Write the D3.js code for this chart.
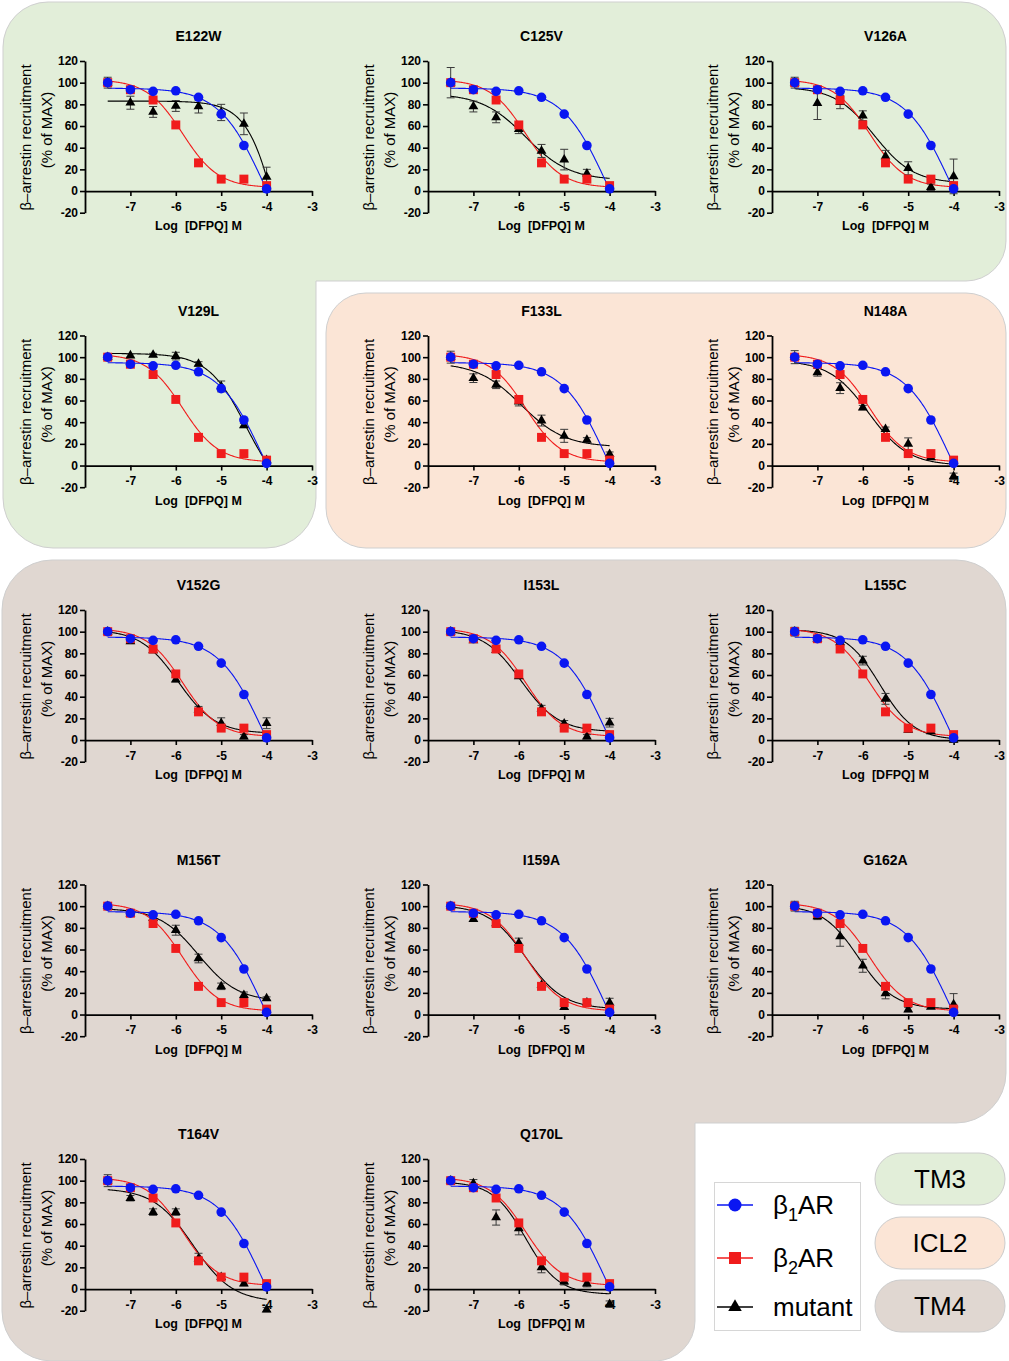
<!DOCTYPE html>
<html><head><meta charset="utf-8">
<script src="https://cdn.jsdelivr.net/npm/d3@7"></script>
<style>
body{margin:0;background:#fff;}
svg{display:block;font-family:"Liberation Sans",Arial,Helvetica,sans-serif;}
</style>
</head><body>
<svg id="chart" width="1009" height="1361"></svg>
<script>
// ---------------- DATA ----------------
const panelNames = ["E122W","C125V","V126A","V129L","F133L","N148A","V152G","I153L","L155C","M156T","I159A","G162A","T164V","Q170L"];
const logConc = [-7.5,-7,-6.5,-6,-5.5,-5,-4.5,-4];
const beta1Values = [100,93.5,92,92.5,86.5,71,42,2];
const beta2Values = [100,93.5,84,61,26,11,11,5];
const mutantValues = [
  [100,81.5,73,78.5,78,72.5,62,13],
  [100,78,68,57,37,29,16,2],
  [100,81,82,69.5,32,21,3.5,13.5],
  [100,101.5,102,101,93.8,73,37,5],
  [100,80.6,74.5,59,41.5,27.4,23.7,10.5],
  [100,86,71.4,53.5,33.5,20,7.4,-10],
  [100,91,82.6,55.7,28,15.5,3,15.5],
  [100,92,83,58.8,29,15,3,16],
  [100,93,90,73.3,38,9.3,8,0],
  [100,93,89,77.8,51.7,26,17.8,14.8],
  [100,88,84,66,27,6.8,11,11],
  [100,90.6,72,45,19.5,4.6,7,9.3],
  [100,83.8,71,71,28,11,5,-19],
  [100,97.5,66,56,20,6.8,5,-14]
];
const mutantErrors = [
  [5,6,5,5,6,7.5,10,9],
  [14,5,5,4,6,9.5,4,3],
  [5,15,6,4.5,5.5,6,3,16],
  [2,1.5,1.5,3.5,2,5,2,2],
  [5.5,4,3.5,4,5,6,2,2],
  [6,3.5,5,2,2,5.5,2,3],
  [2,2,2,2,3,5,2,5],
  [2,2,2,2,3,3,2,4],
  [4,2,2,4,5,2,2,2],
  [2,2,2,4.6,4,3,3,1.5],
  [3,2,2,4.5,2,2,2,4],
  [4.5,3,9,6,5,2,1.5,10],
  [5.5,2.5,3,3,5,2,2,2],
  [3,3.5,7,6,5,3,3,3]
];
// fitted dose-response curves: top, bottom, logIC50, hill slope
const beta1Fit = [95,-80,-4.07,0.89];
const beta2Fit = [103,3,-5.85,1.1];
const mutantFitTop     = [83,90,96,103.5,95,97,102,102,102,98,101,101,93,99];
const mutantFitBottom  = [-200,10,7,-30,17,0,6,7.5,0,12,5,5,-12,-5];
const mutantFitLogIC50 = [-3.6,-5.85,-5.75,-4.46,-5.95,-5.87,-5.95,-5.95,-5.62,-5.5,-5.85,-6.1,-5.62,-5.85];
const mutantFitHill    = [1.2,0.9,1.0,1.05,0.9,1.0,1.05,1.05,1.15,1.0,1.05,1.1,1.0,1.2];
const yTicks = [-20,0,20,40,60,80,100,120];
const xTicks = [-7,-6,-5,-4,-3];
const seriesNames = ["β1AR","β2AR","mutant"];
const regionLabels = ["TM3","ICL2","TM4"];

// ---------------- STYLE ----------------
const BLUE = "#0a16f2", RED = "#f01c1c", BLACK = "#000";
const regionFill = ["#e2eed9","#fbe5d6","#e0d7d1"];
const regionStroke = "#cfcfcf";

const svg = d3.select("#chart");
svg.append("rect").attr("width",1009).attr("height",1361).attr("fill","#fff");

// background regions
const bg = svg.append("g");
bg.append("path")
  .attr("d","M3,47 A45,45 0 0 1 48,2 L961,2 A45,45 0 0 1 1006,47 L1006,241 A40,40 0 0 1 966,281 L316,281 L316,498 A50,50 0 0 1 266,548 L53,548 A50,50 0 0 1 3,498 Z")
  .attr("fill",regionFill[0]).attr("stroke",regionStroke).attr("stroke-width",1);
bg.append("rect").attr("x",326).attr("y",293).attr("width",680).attr("height",255).attr("rx",40)
  .attr("fill",regionFill[1]).attr("stroke",regionStroke).attr("stroke-width",1);
bg.append("path")
  .attr("d","M2,610 A50,50 0 0 1 52,560 L956,560 A50,50 0 0 1 1006,610 L1006,1073 A50,50 0 0 1 956,1123 L695,1123 L695,1321 A40,40 0 0 1 655,1361 L52,1361 A50,50 0 0 1 2,1311 Z")
  .attr("fill",regionFill[2]).attr("stroke",regionStroke).attr("stroke-width",1);

// ---------------- PANELS ----------------
const logistic = (p, x) => p[1] + (p[0]-p[1]) / (1 + Math.pow(10, p[3]*(x - p[2])));
const colX = [0, 343, 687];
const rowH = 274.5;
const x = d3.scaleLinear().domain([-8,-3]).range([85,312]);
const y = d3.scaleLinear().domain([-20,120]).range([212.7,61]);
const curveX = d3.range(logConc[0], logConc[logConc.length-1] + 0.001, 0.02);
const line = d3.line().x(d => x(d[0])).y(d => y(d[1])).curve(d3.curveLinear);
const triangle = d3.symbol().type(d3.symbolTriangle).size(42);
const square = d3.symbol().type(d3.symbolSquare).size(80);

panelNames.forEach((name, i) => {
  const ox = colX[i % 3], oy = Math.floor(i / 3) * rowH;
  const g = svg.append("g").attr("transform", `translate(${ox},${oy})`);

  // title
  g.append("text").attr("x", 198.5).attr("y", 41).attr("text-anchor","middle")
    .attr("font-weight","bold").attr("font-size",14).text(name);

  // axes
  const ya = g.append("g").attr("transform","translate(85,0)")
    .call(d3.axisLeft(y).tickValues(yTicks).tickSize(5).tickSizeOuter(0).tickPadding(2).tickFormat(d => String(d)));
  const xa = g.append("g").attr("transform",`translate(0,${y(0)})`)
    .call(d3.axisBottom(x).tickValues(xTicks).tickSize(5).tickSizeOuter(0).tickPadding(6).tickFormat(d => String(d)));
  [ya, xa].forEach(a => {
    a.select(".domain").attr("stroke","#000").attr("stroke-width",1.8);
    a.selectAll(".tick line").attr("stroke","#000").attr("stroke-width",1.6);
    a.selectAll(".tick text").attr("fill","#000").attr("font-weight","bold")
      .attr("font-size",12).attr("font-family","Liberation Sans, Arial, sans-serif");
  });

  // axis labels
  g.append("text").attr("x",198.5).attr("y",230).attr("text-anchor","middle")
    .attr("font-weight","bold").attr("font-size",12.5).style("white-space","pre")
    .text("Log  [DFPQ] M");
  g.append("text").attr("transform","translate(31,137.5) rotate(-90)").attr("text-anchor","middle")
    .attr("font-size",15).text("β–arrestin recruitment");
  g.append("text").attr("transform","translate(52,130) rotate(-90)").attr("text-anchor","middle")
    .attr("font-size",15).text("(% of MAX)");

  // curves
  const mFit = [mutantFitTop[i], mutantFitBottom[i], mutantFitLogIC50[i], mutantFitHill[i]];
  const curves = [[mFit, BLACK],[beta2Fit, RED],[beta1Fit, BLUE]];
  curves.forEach(([p, c]) => {
    g.append("path").attr("d", line(curveX.map(v => [v, logistic(p, v)])))
      .attr("fill","none").attr("stroke",c).attr("stroke-width",1.1);
  });

  // error bars (mutant)
  const mv = mutantValues[i], me = mutantErrors[i];
  const eb = g.append("g").attr("stroke","#3a3a3a").attr("stroke-width",1);
  logConc.forEach((c, k) => {
    const x0 = x(c), y1 = y(mv[k] - me[k]), y2 = y(mv[k] + me[k]);
    eb.append("line").attr("x1",x0).attr("x2",x0).attr("y1",y1).attr("y2",y2);
    eb.append("line").attr("x1",x0-4).attr("x2",x0+4).attr("y1",y1).attr("y2",y1);
    eb.append("line").attr("x1",x0-4).attr("x2",x0+4).attr("y1",y2).attr("y2",y2);
  });

  // markers
  g.append("g").selectAll("path").data(logConc.map((c,k)=>[c, mv[k]])).join("path")
    .attr("d", triangle).attr("transform", d => `translate(${x(d[0])},${y(d[1])})`).attr("fill",BLACK);
  g.append("g").selectAll("path").data(logConc.map((c,k)=>[c, beta2Values[k]])).join("path")
    .attr("d", square).attr("transform", d => `translate(${x(d[0])},${y(d[1])})`).attr("fill",RED);
  g.append("g").selectAll("circle").data(logConc.map((c,k)=>[c, beta1Values[k]])).join("circle")
    .attr("cx", d => x(d[0])).attr("cy", d => y(d[1])).attr("r",4.8).attr("fill",BLUE);
});

// ---------------- LEGEND ----------------
const lg = svg.append("g");
lg.append("rect").attr("x",714.5).attr("y",1182.5).attr("width",146).attr("height",148)
  .attr("fill","#fff").attr("stroke","#d6d6d6").attr("stroke-width",1);
const legendY = [1205, 1258, 1307];
const legendColors = [BLUE, RED, BLACK];
seriesNames.forEach((s, k) => {
  const yy = legendY[k];
  lg.append("line").attr("x1",717).attr("x2",753).attr("y1",yy).attr("y2",yy)
    .attr("stroke",legendColors[k]).attr("stroke-width",1.6);
  if (k === 0) lg.append("circle").attr("cx",735).attr("cy",yy).attr("r",6.5).attr("fill",BLUE);
  if (k === 1) lg.append("path").attr("d", d3.symbol().type(d3.symbolSquare).size(144)).attr("transform",`translate(735,${yy})`).attr("fill",RED);
  if (k === 2) lg.append("path").attr("d", d3.symbol().type(d3.symbolTriangle).size(80)).attr("transform",`translate(735,${yy})`).attr("fill",BLACK);
  const t = lg.append("text").attr("x",773).attr("y",yy+9).attr("font-size",26).attr("fill","#000");
  if (s.startsWith("β")) {
    t.append("tspan").text("β");
    t.append("tspan").attr("font-size",18).attr("dy",7).text(s.charAt(1));
    t.append("tspan").attr("dy",-7).text(s.slice(2));
  } else {
    t.text(s);
  }
});

// region pills
const pillY = [1153, 1217, 1280];
regionLabels.forEach((r, k) => {
  lg.append("rect").attr("x",875).attr("y",pillY[k]).attr("width",130).attr("height",52).attr("rx",26)
    .attr("fill",regionFill[k]).attr("stroke","#cccccc").attr("stroke-width",1);
  lg.append("text").attr("x",940).attr("y",pillY[k]+35).attr("text-anchor","middle")
    .attr("font-size",26).attr("fill","#000").text(r);
});
</script>
</body></html>
